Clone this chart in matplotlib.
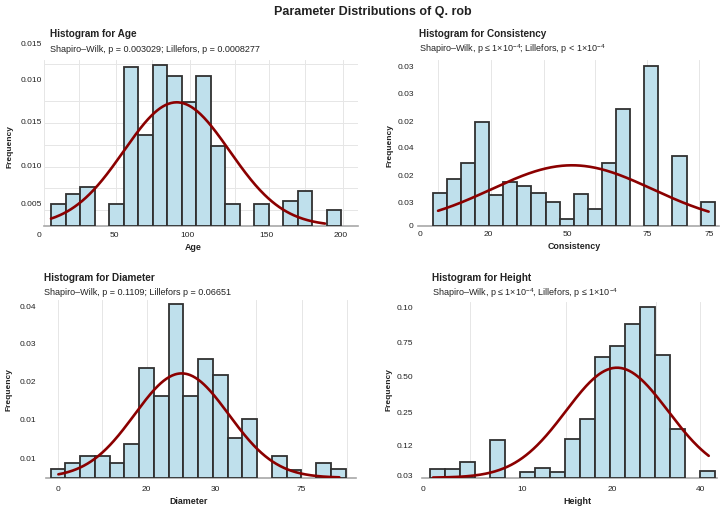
import numpy as np
import matplotlib
matplotlib.use("Agg")
import matplotlib.pyplot as plt

plt.rcParams['font.family'] = ['Liberation Sans', 'DejaVu Sans']
plt.rcParams['mathtext.fontset'] = 'custom'
plt.rcParams['mathtext.rm'] = 'Liberation Sans'
plt.rcParams['mathtext.it'] = 'Liberation Sans:italic'
plt.rcParams['mathtext.bf'] = 'Liberation Sans:bold'

# ------------------------------------------------------------------ data
main_title = "Parameter Distributions of Q. rob"

age_title = "Histogram for Age"
age_sub = "Shapiro\u2013Wilk, p = 0.003029; Lillefors, p = 0.0008277"
age_heights = [22, 31.7, 38.7, 0, 22.3, 159, 91.3, 161, 150, 124,
               149.7, 80.3, 22.3, 0, 22.3, 0, 24.7, 34.7, 0, 15.7]
age_xlabels = ["0", "50", "100", "150", "200"]
age_ylabels = ["0.015", "0.010", "0.015", "0.010", "0.005"]
age_fit = (8.67, 3.65, 123.7, 0.0, 18.9)      # mean, sd (bins), peak, from, to

cons_title = "Histogram for Consistency"
cons_sub = "Shapiro\u2013Wilk, p \u2264 1\u00d710$^{-4}$; Lillefors, p < 1\u00d710$^{-4}$"
cons_heights = [33.3, 46.7, 62.7, 103.7, 31, 44.3, 40.3, 33.3, 24.3, 7.3,
                31.7, 17, 62.7, 116.7, 0, 159.7, 0, 69.7, 0, 23.7]
cons_xlabels = ["0", "20", "50", "75", "75"]
cons_ylabels = ["0.03", "0.03", "0.02", "0.04", "0.02", "0.03", "0"]
cons_fit = (9.88, 5.71, 60.7, 0.38, 19.57)

diam_title = "Histogram for Diameter"
diam_sub = "Shapiro\u2013Wilk, p = 0.1109; Lillefors p = 0.06651"
diam_heights = [8.3, 14.3, 22, 22, 14.3, 33.3, 109.3, 81.7, 173.3, 81.7,
                118.7, 102.7, 40, 58.7, 0, 21.3, 7.7, 0, 14.3, 8.7]
diam_xlabels = ["0", "20", "30", "75"]
diam_ylabels = ["0.04", "0.03", "0.02", "0.01", "0.01"]
diam_fit = (8.88, 3.19, 104.3, 0.52, 19.57)

hgt_title = "Histogram for Height"
hgt_sub = "Shapiro\u2013Wilk, p \u2264 1\u00d710$^{-4}$, Lillefors, p \u2264 1\u00d710$^{-4}$"
hgt_heights = [9, 9, 15.3, 0, 37.7, 0, 6, 9.3, 5.3, 38.7,
               58.7, 121, 132, 153.3, 171, 122.3, 48.3, 0, 7]
hgt_xlabels = ["0", "10", "20", "40"]
hgt_ylabels = ["0.10", "0.75", "0.50", "0.25", "0.12", "0.03"]
hgt_fit = (12.47, 3.41, 110.0, 0.18, 18.6)

ylabel_text = "Frequency"

# ------------------------------------------------------------------ layout (pixels)
W, H, DPI = 723, 512, 100
BAR = "#bfe0ec"
EDGE = "#303030"
CURVE = "#8b0000"
GRID = "#e6e6e6"
TXT = "#222222"

panels = [
    dict(heights=age_heights, xl=age_xlabels, yl=age_ylabels, fit=age_fit,
         title=age_title, sub=age_sub, xlab="Age",
         rect=(44, 60, 358, 226), bin0=51.0, binw=14.5,
         xt=[39, 114.3, 187.3, 266.7, 340.7], yt=[181, 147, 105, 60, 23],
         xg=[44, 79, 116, 152, 190, 235, 269, 305, 343],
         yg=[162, 147, 125, 103, 81, 59, 38, 16],
         tpos=(50, 34.3), spos=(50, 49.3), xlpos=(193, 247), ylpos=(10, 147),
         xpad=6.0, ypad=2.0),
    dict(heights=cons_heights, xl=cons_xlabels, yl=cons_ylabels, fit=cons_fit,
         title=cons_title, sub=cons_sub, xlab="Consistency",
         rect=(418, 60, 719, 226), bin0=432.7, binw=14.1,
         xt=[420.3, 488.7, 567.7, 647.7, 709.7],
         yt=[159.3, 132.7, 105, 78, 50.3, 23.3, 0],
         xg=[438, 491, 543.7, 595, 647, 698.7],
         yg=[159.3, 132.7, 105, 78, 50.3, 23.3],
         tpos=(419.3, 34.3), spos=(419.3, 49.0), xlpos=(573.7, 246.7), ylpos=(390, 146),
         xpad=5.5, ypad=4.3),
    dict(heights=diam_heights, xl=diam_xlabels, yl=diam_ylabels, fit=diam_fit,
         title=diam_title, sub=diam_sub, xlab="Diameter",
         rect=(46, 300, 356, 477.7), bin0=50.7, binw=14.75,
         xt=[58.3, 146.7, 215, 301.7], yt=[171, 133.7, 96, 57.7, 19.4],
         xg=[58, 102, 147, 215, 256, 302, 347],
         yg=[171, 133.7, 96, 57.7, 19.4],
         tpos=(44.3, 278.3), spos=(44.3, 292.7), xlpos=(188.3, 501.7), ylpos=(9.3, 390),
         xpad=8.0, ypad=10.0),
    dict(heights=hgt_heights, xl=hgt_xlabels, yl=hgt_ylabels, fit=hgt_fit,
         title=hgt_title, sub=hgt_sub, xlab="Height",
         rect=(421.7, 301.7, 717, 477.7), bin0=430.3, binw=14.97,
         xt=[423, 522, 612, 700.3], yt=[170.4, 135.4, 101, 65.4, 32, 2],
         xg=[423, 470, 522, 566, 612, 656, 700],
         yg=[170.4, 135.4, 101, 65.4, 32],
         tpos=(432, 278.3), spos=(432, 292.7), xlpos=(577, 501.7), ylpos=(388.7, 390),
         xpad=8.0, ypad=8.4),
]

TICK_FS = 6.0
PX2PT = 72.0 / DPI

fig = plt.figure(figsize=(W / DPI, H / DPI), dpi=DPI)
fig.patch.set_facecolor("white")


def fx(px):
    return px / W


def fy(py):
    return 1 - py / H


fig.text(fx(373), fy(12), main_title, ha="center", va="center",
         fontsize=9.0, fontweight="bold", color=TXT)

for p in panels:
    l, t, r, b = p["rect"]
    ax = fig.add_axes([fx(l), fy(b), fx(r) - fx(l), fy(t) - fy(b)])
    b0, bw = p["bin0"], p["binw"]

    def tob(px, b0=b0, bw=bw):
        return (px - b0) / bw

    xmin, xmax = tob(l), tob(r)
    ymin, ymax = 0, b - t
    ax.set_xlim(xmin, xmax)
    ax.set_ylim(ymin, ymax)

    heights = np.array(p["heights"], dtype=float)
    idx = np.arange(len(heights))
    m = heights > 0
    ax.bar(idx[m] + 0.5, heights[m], width=1.0, color=BAR, edgecolor=EDGE,
           linewidth=1.3, zorder=2)

    mu, sd, peak, x0, x1 = p["fit"]
    xs = np.linspace(x0, x1, 300)
    ax.plot(xs, peak * np.exp(-0.5 * ((xs - mu) / sd) ** 2), color=CURVE,
            lw=1.9, zorder=3, solid_capstyle="round")

    # grid via minor ticks
    ax.set_xticks([tob(v) for v in p["xg"]], minor=True)
    ax.set_yticks(p["yg"], minor=True)
    ax.grid(which="minor", color=GRID, lw=0.7, zorder=0)
    ax.grid(which="major", visible=False)
    ax.set_axisbelow(True)

    # major ticks (labels), out-of-range ones drawn as text
    xin = [(tob(v), s) for v, s in zip(p["xt"], p["xl"]) if xmin <= tob(v) <= xmax]
    xout = [(v, s) for v, s in zip(p["xt"], p["xl"]) if not (xmin <= tob(v) <= xmax)]
    ax.set_xticks([v for v, _ in xin])
    ax.set_xticklabels([s for _, s in xin])
    for v, s in xout:
        fig.text(fx(v), fy(b + p["xpad"]), s, ha="center", va="top",
                 fontsize=TICK_FS, color=TXT)
    yin = [(v, s) for v, s in zip(p["yt"], p["yl"]) if ymin <= v <= ymax]
    yout = [(v, s) for v, s in zip(p["yt"], p["yl"]) if not (ymin <= v <= ymax)]
    ax.set_yticks([v for v, _ in yin])
    ax.set_yticklabels([s for _, s in yin])
    for v, s in yout:
        fig.text(fx(l - p["ypad"]), fy(b - v), s, ha="right", va="center",
                 fontsize=TICK_FS, color=TXT)

    ax.tick_params(which="both", length=0, labelsize=TICK_FS, labelcolor=TXT)
    ax.tick_params(axis="x", pad=p["xpad"] * PX2PT)
    ax.tick_params(axis="y", pad=p["ypad"] * PX2PT)

    for s in ("top", "right", "left"):
        ax.spines[s].set_visible(False)
    ax.spines["bottom"].set_color("#a8a8a8")
    ax.spines["bottom"].set_linewidth(1.2)
    ax.spines["bottom"].set_zorder(1)

    fig.text(fx(p["tpos"][0]), fy(p["tpos"][1]), p["title"], ha="left", va="center",
             fontsize=7.2, fontweight="bold", color=TXT)
    fig.text(fx(p["spos"][0]), fy(p["spos"][1]), p["sub"], ha="left", va="center",
             fontsize=6.5, color=TXT)
    fig.text(fx(p["xlpos"][0]), fy(p["xlpos"][1]), p["xlab"], ha="center", va="center",
             fontsize=6.4, fontweight="bold", color=TXT)
    fig.text(fx(p["ylpos"][0]), fy(p["ylpos"][1]), ylabel_text, ha="center", va="center",
             rotation=90, fontsize=6.0, fontweight="bold", color=TXT)

fig.savefig("out.png", dpi=DPI, facecolor="white")
